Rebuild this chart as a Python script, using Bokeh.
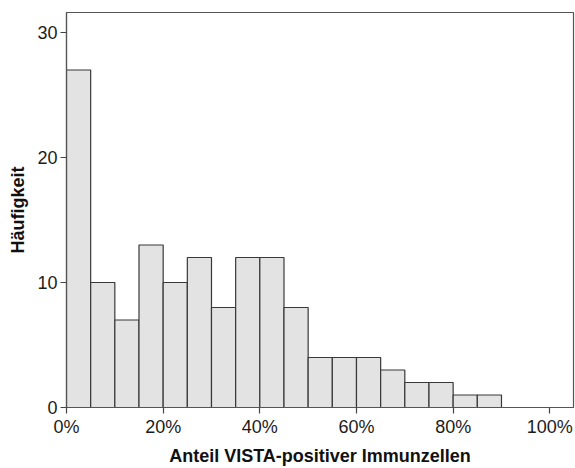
from bokeh.plotting import figure
from bokeh.models import Range1d, FixedTicker, ColumnDataSource
from bokeh.embed import file_html
from bokeh.resources import INLINE

# Data
bin_left = [0, 5, 10, 15, 20, 25, 30, 35, 40, 45, 50, 55, 60, 65, 70, 75, 80, 85]
bin_right = [5, 10, 15, 20, 25, 30, 35, 40, 45, 50, 55, 60, 65, 70, 75, 80, 85, 90]
counts = [27, 10, 7, 13, 10, 12, 8, 12, 12, 8, 4, 4, 4, 3, 2, 2, 1, 1]
x_ticks = [0, 20, 40, 60, 80, 100]
x_tick_labels = ["0%", "20%", "40%", "60%", "80%", "100%"]
y_ticks = [0, 10, 20, 30]
x_title = "Anteil VISTA-positiver Immunzellen"
y_title = "Häufigkeit"

FONT = "Liberation Sans"

src = ColumnDataSource(dict(left=bin_left, right=bin_right, top=counts,
                            bottom=[0] * len(counts)))

p = figure(width=575, height=468, output_backend="svg", toolbar_location=None,
           x_range=Range1d(0, 104.9), y_range=Range1d(0, 31.6),
           min_border_left=66, min_border_right=2, min_border_top=12,
           min_border_bottom=59)

p.quad(left="left", right="right", top="top", bottom="bottom", source=src,
       fill_color="#e3e3e3", line_color="#383838", line_width=1.2)

p.xgrid.visible = False
p.ygrid.visible = False
p.outline_line_color = "#555555"
p.outline_line_width = 1.2
p.background_fill_color = "white"
p.border_fill_color = "white"

p.xaxis.ticker = FixedTicker(ticks=x_ticks)
p.xaxis.major_label_overrides = {t: l for t, l in zip(x_ticks, x_tick_labels)}
p.yaxis.ticker = FixedTicker(ticks=y_ticks)

for ax in (p.xaxis[0], p.yaxis[0]):
    ax.axis_line_color = "#555555"
    ax.axis_line_width = 1.2
    ax.major_tick_line_color = "#444444"
    ax.major_tick_line_width = 1.2
    ax.major_tick_in = 0
    ax.minor_tick_line_color = None
    ax.major_label_text_font = FONT
    ax.major_label_text_font_size = "18px"
    ax.major_label_text_color = "#1c1c1c"
    ax.axis_label_text_font = FONT
    ax.axis_label_text_font_size = "18px"
    ax.axis_label_text_font_style = "bold"
    ax.axis_label_text_color = "#111111"

p.xaxis.major_tick_out = 6
p.xaxis.major_label_standoff = 3
p.xaxis.axis_label = x_title
p.xaxis.axis_label_standoff = 6

p.yaxis.major_tick_out = 6
p.yaxis.major_label_standoff = 3
p.yaxis.axis_label = y_title
p.yaxis.axis_label_standoff = 6

open("out.html", "w").write(file_html(p, INLINE))
